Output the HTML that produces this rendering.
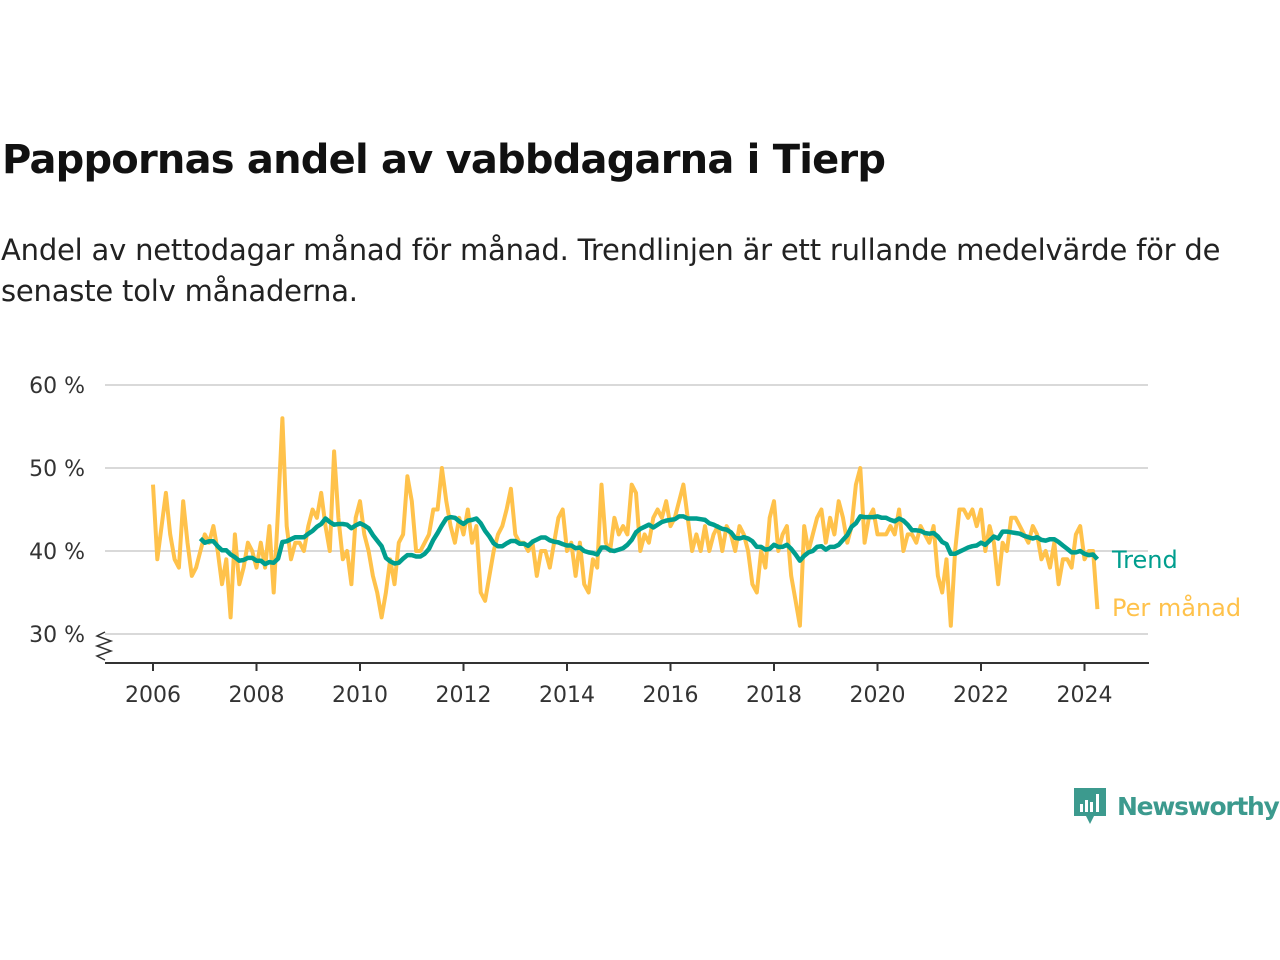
<!DOCTYPE html>
<html><head><meta charset="utf-8"><style>
body{margin:0;width:1280px;height:960px;background:#fff;font-family:"Liberation Sans","DejaVu Sans",sans-serif;overflow:hidden;position:relative}
h1{position:absolute;left:2px;top:137px;margin:0;font-size:40px;font-weight:bold;color:#111;font-family:"DejaVu Sans","Liberation Sans",sans-serif;letter-spacing:-0.8px}
p.sub{position:absolute;left:1px;top:230px;margin:0;font-size:29px;line-height:41px;color:#222;width:1240px;font-family:"DejaVu Sans","Liberation Sans",sans-serif;letter-spacing:-0.2px}
</style></head><body>
<h1>Pappornas andel av vabbdagarna i Tierp</h1>
<p class="sub">Andel av nettodagar månad för månad. Trendlinjen är ett rullande medelvärde för de senaste tolv månaderna.</p>
<svg id="chart" width="1280" height="960" style="position:absolute;left:0;top:0" font-family="DejaVu Sans, Liberation Sans, sans-serif"></svg>
<div style="position:absolute;left:1072px;top:786px;display:flex;align-items:center">
<svg width="36" height="40"><path d="M2 2h32v28h-12l-4 8-4-8H2z" fill="#3c9a8e"/><rect x="8" y="18" width="3" height="8" fill="#fff"/><rect x="13" y="14" width="3" height="12" fill="#fff"/><rect x="18" y="16" width="3" height="10" fill="#fff"/><rect x="24" y="8" width="3" height="18" fill="#fff"/></svg>
<span style="font-size:25px;font-weight:bold;color:#3c9a8e;margin-left:9px;font-family:'DejaVu Sans',sans-serif;letter-spacing:-1.3px">Newsworthy</span></div>
<script>
const yTicks=[30,40,50,60];
const yTickLabels=["30 %","40 %","50 %","60 %"];
const xTicks=[2006,2008,2010,2012,2014,2016,2018,2020,2022,2024];
const startYear=2006;
const monthly=[48,39,43,47,42,39,38,46,41,37,38,40,
42,41,43,40,36,39,32,42,36,38,41,40,
38,41,38,43,35,45,56,43,39,41,41,40,
43,45,44,47,43,40,52,44,39,40,36,44,
46,42,40,37,35,32,35,39,36,41,42,49,
46,40,40,41,42,45,45,50,46,43,41,44,
42,45,41,43,35,34,37,40,42,43,45,47.5,
42,41,41,40,41,37,40,40,38,41,44,45,
40,41,37,41,36,35,39,38,48,41,40,44,
42,43,42,48,47,40,42,41,44,45,44,46,
43,44,46,48,44,40,42,40,43,40,42,43,
40,43,42,40,43,42,40,36,35,40,38,44,
46,40,42,43,37,34,31,43,40,42,44,45,
41,44,42,46,44,41,43,48,50,41,44,45,
42,42,42,43,42,45,40,42,42,41,43,42,
41,43,37,35,39,31,40,45,45,44,45,43,
45,40,43,41,36,41,40,44,44,43,42,41,
43,42,39,40,38,41,36,39,39,38,42,43,
39,40,40,33];
const trend=monthly.map((v,i)=>i<11?null:monthly.slice(i-11,i+1).reduce((a,b)=>a+b,0)/12);
const svg=document.getElementById('chart');const NS='http://www.w3.org/2000/svg';
const X=t=>153+(t-2006)*51.75;const Y=v=>634-(v-30)*8.3;
function mk(tag,attrs,parent){const e=document.createElementNS(NS,tag);for(const k in attrs)e.setAttribute(k,attrs[k]);(parent||svg).appendChild(e);return e;}
yTicks.forEach((v,i)=>{const g=mk('line',{x1:105,x2:1148,y1:Y(v),y2:Y(v),stroke:'#d9d9d9','stroke-width':2});


const t=mk('text',{x:85,y:Y(v)+8,'text-anchor':'end','font-size':22,fill:'#333'});t.textContent=yTickLabels[i];

});
const ax=mk('line',{x1:105,x2:1149,y1:663,y2:663,stroke:'#333','stroke-width':2});


const zz=mk('path',{d:'M105 632 l-8 4 l14 5 l-14 5 l14 5 l-14 5 l8 4',fill:'none',stroke:'#333','stroke-width':1.5});


xTicks.forEach(y=>{const l=mk('line',{x1:X(y),x2:X(y),y1:663,y2:671,stroke:'#333','stroke-width':2});


const t=mk('text',{x:X(y),y:702,'text-anchor':'middle','font-size':22,fill:'#333'});t.textContent=y;

});
function pathOf(arr){let d='';arr.forEach((v,i)=>{if(v==null)return;const t=startYear+i/12;d+=(d?'L':'M')+X(t).toFixed(1)+' '+Y(v).toFixed(1);});return d;}
const m=mk('path',{d:pathOf(monthly),fill:'none',stroke:'#ffc24b','stroke-width':4,'stroke-linejoin':'round'});


const tr=mk('path',{d:pathOf(trend),fill:'none',stroke:'#009e8e','stroke-width':4.5,'stroke-linejoin':'round'});


const l1=mk('text',{x:1112,y:568,'font-size':24,fill:'#009e8e'});l1.textContent='Trend';


const l2=mk('text',{x:1112,y:616,'font-size':24,fill:'#ffc24b'});l2.textContent='Per månad';


</script>
</body></html>
